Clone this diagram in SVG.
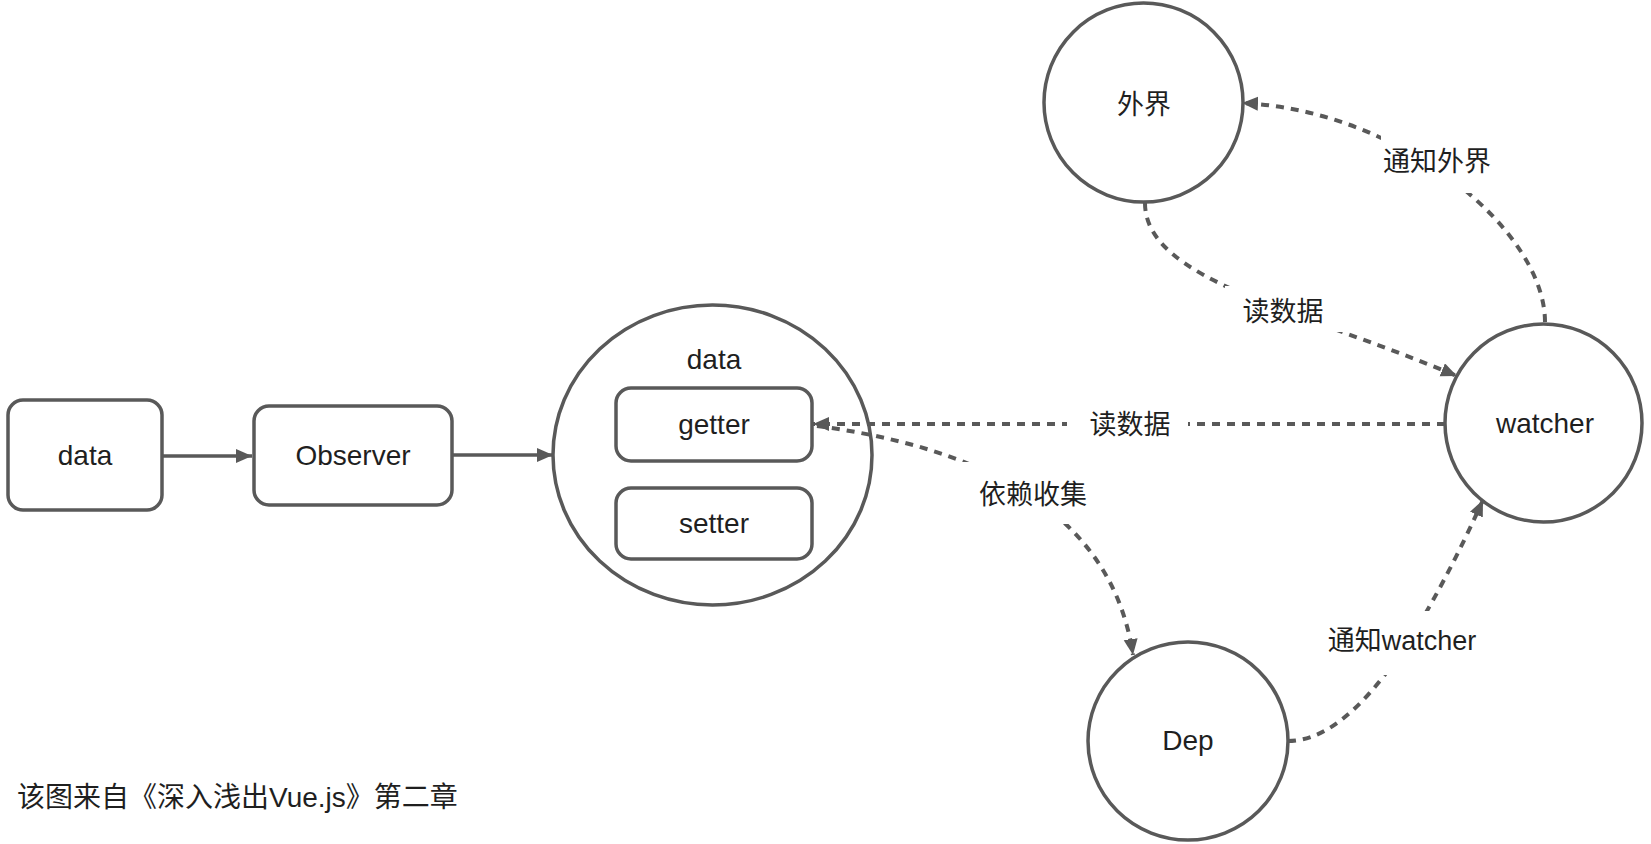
<svg xmlns="http://www.w3.org/2000/svg" width="1651" height="844" viewBox="0 0 1651 844">
<style>
  .shape { fill: #ffffff; stroke: #595959; stroke-width: 3.5; }
  .solid { fill: none; stroke: #595959; stroke-width: 3.5; }
  .dash { fill: none; stroke: #595959; stroke-width: 4; stroke-dasharray: 8 7; }
  .gap { fill: #ffffff; stroke: none; }
  text { font-family: "Liberation Sans", "Noto Sans CJK SC", sans-serif; fill: #1f1f1f; text-anchor: middle; }
  .lt { font-size: 28px; }
  .ct { font-size: 27px; }
</style>
<defs>
  <marker id="arrow" markerUnits="userSpaceOnUse" markerWidth="17" markerHeight="15" refX="16" refY="7" orient="auto">
    <path d="M0,0 L16,7 L0,14 z" fill="#595959"/>
  </marker>
</defs>
<rect width="1651" height="844" fill="#ffffff"/>

<g id="node-data">
  <rect class="shape" x="8" y="400" width="154" height="110" rx="15"/>
  <text class="lt" x="85" y="465">data</text>
</g>
<g id="node-observer">
  <rect class="shape" x="254" y="406" width="198" height="99" rx="15"/>
  <text class="lt" x="353" y="465">Observer</text>
</g>
<g id="node-datacircle">
  <ellipse class="shape" cx="712.5" cy="455" rx="159.5" ry="150"/>
  <text class="lt" x="714" y="369">data</text>
</g>
<g id="node-getter">
  <rect class="shape" x="616" y="388" width="196" height="73" rx="15"/>
  <text class="lt" x="714" y="434">getter</text>
</g>
<g id="node-setter">
  <rect class="shape" x="616" y="488" width="196" height="71" rx="15"/>
  <text class="lt" x="714" y="533">setter</text>
</g>
<g id="node-outside">
  <ellipse class="shape" cx="1143.5" cy="102.5" rx="99.5" ry="99.5"/>
  <text class="ct" x="1144" y="114">外界</text>
</g>
<g id="node-watcher">
  <ellipse class="shape" cx="1543.5" cy="423" rx="98.5" ry="99"/>
  <text class="lt" x="1545" y="433">watcher</text>
</g>
<g id="node-dep">
  <ellipse class="shape" cx="1188" cy="741" rx="100" ry="99"/>
  <text class="lt" x="1188" y="750">Dep</text>
</g>

<g id="connectors">
  <path class="solid" d="M162,456 L252,456" marker-end="url(#arrow)"/>
  <path class="solid" d="M452,455 L553,455" marker-end="url(#arrow)"/>
  <path class="dash" d="M1445,424 L813,424" marker-end="url(#arrow)"/>
  <path class="dash" d="M817,426 C960,445 1110,500 1133,655" marker-end="url(#arrow)"/>
  <path class="dash" d="M1145,203 C1145,280 1300,310 1457,376" marker-end="url(#arrow)"/>
  <path class="dash" d="M1545,322 C1545,230 1400,110 1242,103" marker-end="url(#arrow)"/>
  <path class="dash" d="M1288,741 C1350,741 1415,650 1483,500" marker-end="url(#arrow)"/>

  <rect class="gap" x="1067" y="405" width="121" height="40"/>
  <rect class="gap" x="946" y="462" width="128" height="62"/>
  <rect class="gap" x="1225" y="286" width="120" height="46"/>
  <rect class="gap" x="1381" y="131" width="111" height="62"/>
  <rect class="gap" x="1322" y="611" width="160" height="64"/>

  <text class="ct" x="1130" y="434">读数据</text>
  <text class="ct" x="1033" y="504">依赖收集</text>
  <text class="ct" x="1283" y="321">读数据</text>
  <text class="ct" x="1437" y="171">通知外界</text>
  <text class="ct" x="1402" y="650">通知watcher</text>
</g>

<text class="lt" x="17" y="807" style="text-anchor: start;">该图来自《深入浅出Vue.js》第二章</text>
</svg>
